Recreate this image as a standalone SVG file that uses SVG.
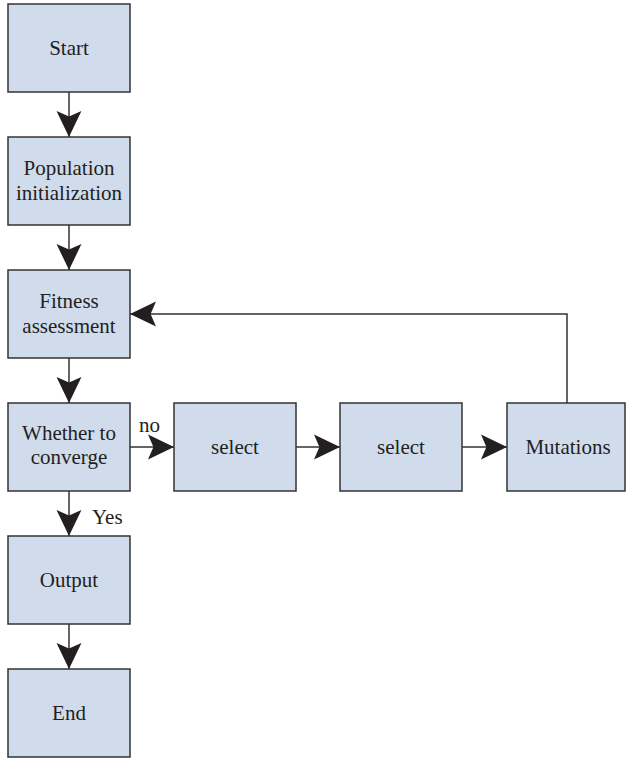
<svg xmlns="http://www.w3.org/2000/svg" width="626" height="759" viewBox="0 0 626 759">
<style>
.box{fill:#d0dcec;stroke:#333;stroke-width:1.5}
text{font-family:'Liberation Serif','DejaVu Serif','Times New Roman',Times,serif;font-size:21px;fill:#231f20}
.t{text-anchor:middle}
.c{fill:none;stroke:#333;stroke-width:1.5}
</style>
<defs>
<marker id="ah" markerUnits="userSpaceOnUse" markerWidth="26" markerHeight="26" viewBox="0 0 24 24" refX="24" refY="12" orient="auto">
<path d="M0,0.5 L24,12 L0,23.5 L5,12 Z" fill="#231f20"/>
</marker>
</defs>
<rect width="626" height="759" fill="#fff"/>
<g id="connectors">
<line class="c" x1="69" y1="92" x2="69" y2="137" marker-end="url(#ah)"/>
<line class="c" x1="69" y1="225" x2="69" y2="270" marker-end="url(#ah)"/>
<line class="c" x1="69" y1="358" x2="69" y2="403" marker-end="url(#ah)"/>
<line class="c" x1="69" y1="491" x2="69" y2="536" marker-end="url(#ah)"/>
<line class="c" x1="69" y1="624" x2="69" y2="669" marker-end="url(#ah)"/>
<line class="c" x1="130" y1="447" x2="174" y2="447" marker-end="url(#ah)"/>
<line class="c" x1="296" y1="447" x2="340" y2="447" marker-end="url(#ah)"/>
<line class="c" x1="462" y1="447" x2="507" y2="447" marker-end="url(#ah)"/>
<polyline class="c" points="567,403 567,314 130,314" marker-end="url(#ah)"/>
<text x="139" y="432">no</text>
<text x="92" y="524">Yes</text>
</g>
<g id="start"><rect class="box" x="8" y="4" width="122" height="88"/><text class="t" x="69" y="55">Start</text></g>
<g id="population"><rect class="box" x="8" y="137" width="122" height="88"/><text class="t" x="69" y="175">Population</text><text class="t" x="69" y="200">initialization</text></g>
<g id="fitness"><rect class="box" x="8" y="270" width="122" height="88"/><text class="t" x="69" y="308">Fitness</text><text class="t" x="69" y="333">assessment</text></g>
<g id="converge"><rect class="box" x="8" y="403" width="122" height="88"/><text class="t" x="69" y="440">Whether to</text><text class="t" x="69" y="464">converge</text></g>
<g id="select1"><rect class="box" x="174" y="403" width="122" height="88"/><text class="t" x="235" y="454">select</text></g>
<g id="select2"><rect class="box" x="340" y="403" width="122" height="88"/><text class="t" x="401" y="454">select</text></g>
<g id="mutations"><rect class="box" x="507" y="403" width="118" height="88"/><text class="t" x="568" y="454">Mutations</text></g>
<g id="output"><rect class="box" x="8" y="536" width="122" height="88"/><text class="t" x="69" y="587">Output</text></g>
<g id="end"><rect class="box" x="8" y="669" width="122" height="88"/><text class="t" x="69" y="720">End</text></g>
</svg>
